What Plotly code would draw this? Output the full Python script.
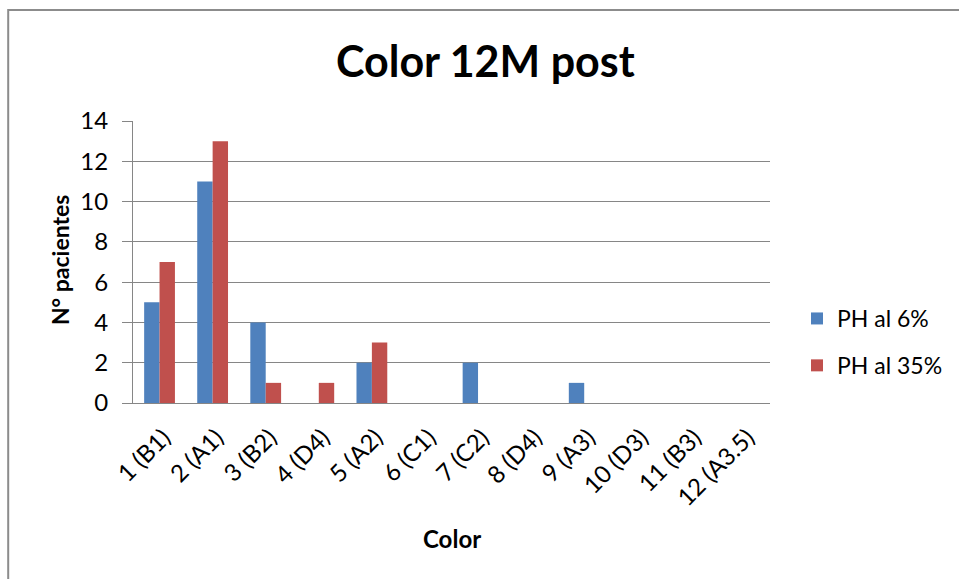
import plotly.graph_objects as go

# Shade categories (x axis) and patient counts per treatment
categories = ["1 (B1)", "2 (A1)", "3 (B2)", "4 (D4)", "5 (A2)", "6 (C1)",
              "7 (C2)", "8 (D4)", "9 (A3)", "10 (D3)", "11 (B3)", "12 (A3.5)"]
ph_6 = [5, 11, 4, 0, 2, 0, 2, 0, 1, 0, 0, 0]
ph_35 = [7, 13, 1, 1, 3, 0, 0, 0, 0, 0, 0, 0]
y_ticks = [0, 2, 4, 6, 8, 10, 12, 14]

FONT = "Lato"
GRID = "#868686"

fig = go.Figure()
fig.add_trace(go.Bar(x=categories, y=ph_6, name="PH al 6%",
                     marker=dict(color="#4F81BD", line=dict(width=0)),
                     legendgroup="a"))
fig.add_trace(go.Bar(x=categories, y=ph_35, name="PH al 35%",
                     marker=dict(color="#C0504D", line=dict(width=0)),
                     legendgroup="b"))

L, R, T, B = 133, 188, 121, 176
W, H = 959, 579
pw, ph = W - L - R, H - T - B


def px_to_paper_x(px):
    return (px - L) / pw


def px_to_paper_y(py):
    return (H - B - py) / ph


fig.update_layout(
    width=W, height=H,
    margin=dict(l=L, r=R, t=T, b=B, pad=0),
    paper_bgcolor="white", plot_bgcolor="white",
    barmode="group", bargap=0.42, bargroupgap=0,
    font=dict(family=FONT, color="#000000", size=20),
    showlegend=True,
    legend=dict(x=px_to_paper_x(797), y=px_to_paper_y(297), xanchor="left", yanchor="top",
                font=dict(size=23, family=FONT), tracegroupgap=14,
                itemwidth=30, bgcolor="rgba(0,0,0,0)"),
    xaxis=dict(
        tickangle=-45, tickfont=dict(size=24, family=FONT),
        ticklabelstandoff=10, ticklabelshift=4,
        showline=True, linecolor=GRID, linewidth=1,
        ticks="", showgrid=False, automargin=False,
    ),
    yaxis=dict(
        range=[0, 14], tickvals=y_ticks, tickfont=dict(size=24, family=FONT),
        ticklabelstandoff=9,
        showline=True, linecolor=GRID, linewidth=1,
        ticks="outside", ticklen=10, tickcolor=GRID,
        showgrid=True, gridcolor=GRID, gridwidth=1,
        zeroline=False, automargin=False,
    ),
    annotations=[
        dict(text="<b>Color 12M post</b>", xref="paper", yref="paper",
             x=px_to_paper_x(486), y=px_to_paper_y(61), xanchor="center", yanchor="middle",
             showarrow=False, font=dict(size=43, family=FONT, color="#000000")),
        dict(text="<b>Color</b>", xref="paper", yref="paper",
             x=px_to_paper_x(452), y=px_to_paper_y(538), xanchor="center", yanchor="middle",
             showarrow=False, font=dict(size=24, family=FONT, color="#000000")),
        dict(text="<b>N° pacientes</b>", xref="paper", yref="paper", textangle=-90,
             x=px_to_paper_x(60), y=px_to_paper_y(260), xanchor="center", yanchor="middle",
             showarrow=False, font=dict(size=23, family=FONT, color="#000000")),
    ],
    shapes=[dict(
        type="rect", xref="paper", yref="paper", layer="above",
        x0=px_to_paper_x(8), y0=px_to_paper_y(10),
        x1=px_to_paper_x(965), y1=px_to_paper_y(590),
        line=dict(color="#8c8c8c", width=2), fillcolor="rgba(0,0,0,0)",
    )],
)

fig.write_html("out.html")
